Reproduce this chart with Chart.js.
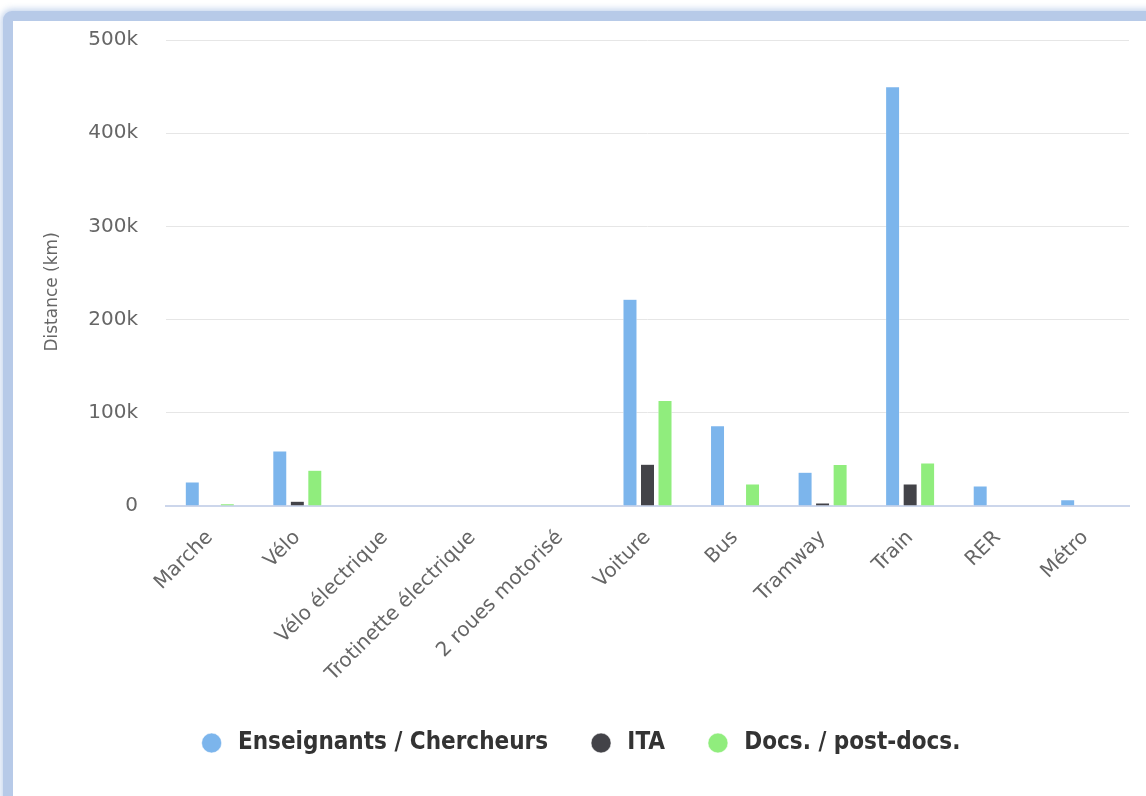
<!DOCTYPE html>
<html>
<head>
<meta charset="utf-8">
<script src="https://cdn.jsdelivr.net/npm/chart.js@4"></script>
<style>
  html, body { margin: 0; padding: 0; background: #fff; overflow: hidden; }
  .frame {
    position: absolute; left: 3px; top: 11px; width: 1200px; height: 850px;
    border: 10px solid #b7cae8; border-radius: 9px;
    box-shadow: 0 0 6px 2px rgba(183, 202, 232, 0.8);
    background: #fff;
  }
  .wrap { position: absolute; left: 13px; top: 21px; width: 1133px; height: 775px; }
</style>
</head>
<body>
<div class="frame"></div>
<div class="wrap"><canvas id="chart"></canvas></div>
<script>
const categories = ['Marche', 'Vélo', 'Vélo électrique', 'Trotinette électrique', '2 roues motorisé',
  'Voiture', 'Bus', 'Tramway', 'Train', 'RER', 'Métro']
const enseignants = [25800, 59000, 0, 0, 0, 221800, 86000, 36200, 449800, 21500, 6800]
const ita = [0, 5000, 0, 0, 0, 44800, 0, 3200, 23600, 0, 0]
const docs = [2500, 38400, 0, 0, 0, 113200, 23600, 44400, 46200, 0, 0]

const ctx = document.getElementById('chart').getContext('2d')

const makeSet = function (label, data, color) {
  return {
    label: label,
    data: data,
    backgroundColor: color,
    borderColor: '#ffffff',
    borderWidth: 0.5,
    categoryPercentage: 0.6,
    barPercentage: 0.8
  }
}

new Chart(ctx, {
  type: 'bar',
  data: {
    labels: categories,
    datasets: [
      makeSet('Enseignants / Chercheurs', enseignants, '#7cb5ec'),
      makeSet('ITA', ita, '#434348'),
      makeSet('Docs. / post-docs.', docs, '#90ed7d')
    ]
  },
  options: {
    responsive: true,
    maintainAspectRatio: false,
    animation: false,
    layout: { padding: { top: 0, bottom: 31, left: 20, right: 17 } },
    plugins: {
      tooltip: { enabled: false },
      legend: {
        position: 'bottom',
        labels: {
          usePointStyle: true,
          pointStyle: 'circle',
          boxHeight: 14,
          pointStyleWidth: 20,
          padding: 43,
          color: '#333333',
          font: { family: '"DejaVu Sans Condensed", "DejaVu Sans"', size: 24, weight: 'bold' },
          // a thin space so the text sits a bit further from the dot
          generateLabels: function (chart) {
            const items = Chart.defaults.plugins.legend.labels.generateLabels(chart)
            items.forEach(function (item) { item.text = '\u2009' + item.text })
            return items
          }
        }
      }
    },
    scales: {
      x: {
        grid: { display: false, drawTicks: false },
        border: { color: '#ccd6eb', width: 2 },
        ticks: {
          color: '#666666',
          minRotation: 45,
          maxRotation: 45,
          padding: 20,
          font: { family: '"DejaVu Sans"', size: 20 }
        },
        afterFit: function (scale) { scale.height = 182 }
      },
      y: {
        min: 0,
        max: 500000,
        grid: { color: '#e6e6e6', lineWidth: 1, drawTicks: false },
        border: { display: false },
        ticks: {
          stepSize: 100000,
          color: '#666666',
          padding: 28,
          font: { family: '"DejaVu Sans"', size: 20 },
          callback: function (v) { return v === 0 ? '0' : (v / 1000) + 'k' }
        },
        title: {
          display: true,
          text: 'Distance (km)       ',
          color: '#666666',
          padding: { top: 9, bottom: 0 },
          font: { family: '"DejaVu Sans"', size: 17 }
        },
        afterFit: function (scale) {
          scale.width = 133
          scale.paddingTop = 19
          scale.paddingBottom = 0
        }
      }
    }
  }
})
</script>
</body>
</html>
